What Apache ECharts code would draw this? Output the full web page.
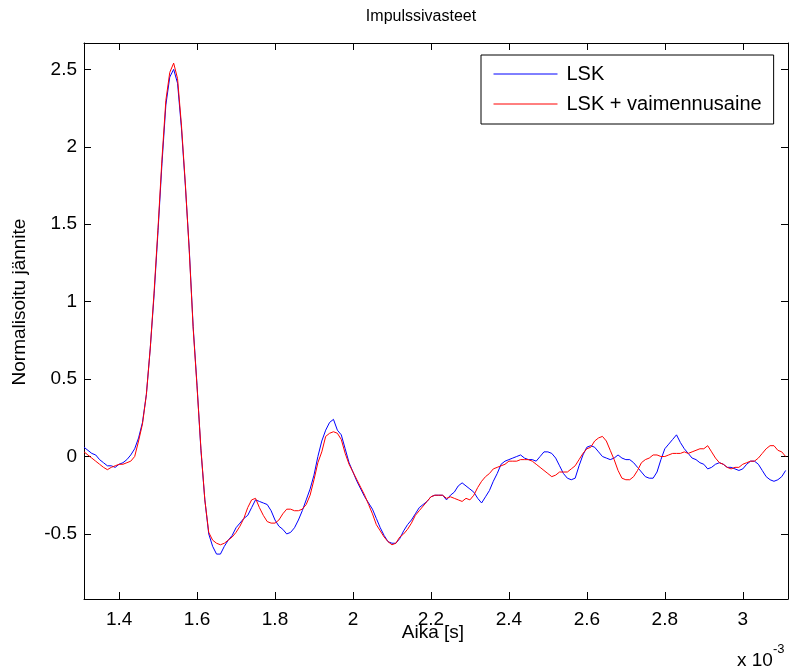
<!DOCTYPE html>
<html>
<head>
<meta charset="utf-8">
<script src="https://cdn.jsdelivr.net/npm/echarts@6/dist/echarts.min.js"></script>
<style>
  html, body { margin: 0; padding: 0; background: #fff; }
  #chart { width: 790px; height: 668px; }
</style>
</head>
<body>
<div id="chart"></div>
<script>
// aika (ms), näytteet 0.01 ms välein
var t0 = 1.31, dt = 0.01;

var lsk = [
  0.06, 0.04, 0.02, 0.01, -0.02, -0.04, -0.06, -0.06, -0.07, -0.05,
  -0.04, -0.02, 0.01, 0.05, 0.12, 0.22, 0.40, 0.70, 1.05, 1.46,
  1.89, 2.27, 2.45, 2.50, 2.41, 2.12, 1.75, 1.34, 0.84, 0.46,
  0.04, -0.28, -0.50, -0.58, -0.63, -0.63, -0.58, -0.54, -0.51, -0.46,
  -0.43, -0.40, -0.38, -0.33, -0.28, -0.29, -0.30, -0.31, -0.35, -0.41,
  -0.45, -0.47, -0.50, -0.49, -0.46, -0.41, -0.35, -0.28, -0.21, -0.12,
  0.00, 0.10, 0.17, 0.22, 0.24, 0.17, 0.14, 0.05, -0.04, -0.10,
  -0.16, -0.21, -0.26, -0.30, -0.34, -0.40, -0.46, -0.51, -0.55, -0.56,
  -0.56, -0.53, -0.48, -0.44, -0.41, -0.37, -0.33, -0.31, -0.29, -0.26,
  -0.25, -0.25, -0.25, -0.28, -0.25, -0.23, -0.19, -0.17, -0.19, -0.21,
  -0.23, -0.27, -0.30, -0.26, -0.22, -0.16, -0.11, -0.05, -0.03, -0.02,
  -0.01, 0.00, 0.01, -0.01, -0.02, -0.02, -0.03, 0.00, 0.03, 0.03,
  0.02, -0.01, -0.06, -0.11, -0.14, -0.15, -0.14, -0.06, 0.01, 0.06,
  0.07, 0.06, 0.03, 0.00, -0.01, -0.02, -0.01, 0.01, -0.01, -0.02,
  -0.02, -0.04, -0.07, -0.10, -0.13, -0.14, -0.14, -0.10, -0.02, 0.05,
  0.08, 0.11, 0.14, 0.09, 0.05, 0.02, -0.01, -0.02, -0.04, -0.05,
  -0.08, -0.07, -0.05, -0.04, -0.05, -0.07, -0.07, -0.08, -0.09, -0.08,
  -0.05, -0.03, -0.03, -0.05, -0.09, -0.13, -0.15, -0.16, -0.15, -0.13, -0.09
];

var lskVaim = [
  0.03, 0.01, -0.01, -0.03, -0.05, -0.07, -0.085, -0.07, -0.06, -0.05,
  -0.05, -0.04, -0.03, 0.00, 0.10, 0.21, 0.40, 0.70, 1.07, 1.48,
  1.92, 2.30, 2.48, 2.54, 2.44, 2.14, 1.76, 1.33, 0.83, 0.45,
  0.05, -0.28, -0.49, -0.54, -0.56, -0.57, -0.56, -0.54, -0.52, -0.49,
  -0.45, -0.40, -0.33, -0.28, -0.27, -0.33, -0.38, -0.42, -0.43, -0.43,
  -0.41, -0.37, -0.34, -0.34, -0.35, -0.35, -0.34, -0.31, -0.25, -0.15,
  -0.04, 0.03, 0.13, 0.15, 0.16, 0.15, 0.11, 0.02, -0.05, -0.10,
  -0.15, -0.20, -0.25, -0.31, -0.37, -0.44, -0.48, -0.52, -0.55, -0.57,
  -0.56, -0.52, -0.50, -0.47, -0.43, -0.38, -0.35, -0.32, -0.29, -0.26,
  -0.25, -0.25, -0.25, -0.27, -0.26, -0.27, -0.28, -0.29, -0.27, -0.28,
  -0.25, -0.20, -0.16, -0.13, -0.11, -0.08, -0.07, -0.06, -0.05, -0.03,
  -0.03, -0.03, -0.02, -0.02, -0.02, -0.03, -0.05, -0.07, -0.09, -0.11,
  -0.13, -0.12, -0.10, -0.10, -0.10, -0.08, -0.06, -0.02, 0.02, 0.05,
  0.06, 0.10, 0.12, 0.13, 0.10, 0.04, -0.02, -0.09, -0.14, -0.15,
  -0.15, -0.13, -0.09, -0.04, -0.02, -0.01, 0.01, 0.01, 0.00, 0.00,
  0.01, 0.02, 0.02, 0.02, 0.03, 0.02, 0.03, 0.04, 0.05, 0.05,
  0.07, 0.03, -0.01, -0.04, -0.05, -0.07, -0.08, -0.07, -0.07, -0.05,
  -0.04, -0.03, -0.03, -0.01, 0.02, 0.05, 0.07, 0.07, 0.04, 0.03, 0.00
];

var xMin = 1.31, xMax = 3.116;
var yMin = -0.92, yMax = 2.67;

function pairs(vals) {
  return vals.map(function (v, i) {
    return [+(t0 + i * dt).toFixed(3), v];
  });
}

var font = 'Arial, "Liberation Sans", Helvetica, sans-serif';

var myChart = echarts.init(document.getElementById('chart'));

var tickFmt = function (v) { return String(+v.toFixed(2)); };

var axisCommon = {
  type: 'value',
  scale: true,
  axisLine: { show: true, onZero: false, lineStyle: { color: '#000', width: 1 } },
  axisTick: { show: true, inside: true, length: 7, lineStyle: { color: '#000' } },
  splitLine: { show: false }
};

var option = {
  animation: false,
  backgroundColor: '#fff',
  grid: { left: 84, top: 43, width: 704, height: 556, containLabel: false },
  xAxis: [
    Object.assign({}, axisCommon, {
      position: 'bottom', min: xMin, max: xMax, splitNumber: 9,
      axisLabel: { show: true, color: '#000', fontFamily: font, fontSize: 19, margin: 11,
        showMinLabel: false, showMaxLabel: false, formatter: tickFmt }
    }),
    Object.assign({}, axisCommon, {
      position: 'top', min: xMin, max: xMax, splitNumber: 9,
      axisLabel: { show: false }
    })
  ],
  yAxis: [
    Object.assign({}, axisCommon, {
      position: 'left', min: yMin, max: yMax, splitNumber: 7,
      axisLabel: { show: true, color: '#000', fontFamily: font, fontSize: 19, margin: 7,
        showMinLabel: false, showMaxLabel: false, formatter: tickFmt }
    }),
    Object.assign({}, axisCommon, {
      position: 'right', min: yMin, max: yMax, splitNumber: 7,
      axisLabel: { show: false }
    })
  ],
  legend: {
    orient: 'vertical',
    left: 481, top: 55,
    padding: [9, 12, 10, 12],
    itemWidth: 64, itemHeight: 20, itemGap: 10,
    backgroundColor: '#fff',
    borderColor: '#000', borderWidth: 1, borderRadius: 0,
    itemStyle: { opacity: 0 },
    lineStyle: { width: 1 },
    textStyle: { color: '#000', fontFamily: font, fontSize: 20, padding: [0, 0, 0, 4] },
    data: ['LSK', 'LSK + vaimennusaine']
  },
  graphic: [
    { type: 'text', x: 421, y: 17,
      style: { text: 'Impulssivasteet', font: '16px ' + font, fill: '#000',
        align: 'center', verticalAlign: 'middle' } },
    { type: 'text', x: 20, y: 302, rotation: Math.PI / 2,
      style: { text: 'Normalisoitu jännite', font: '19px ' + font, fill: '#000',
        align: 'center', verticalAlign: 'middle' } },
    { type: 'text', x: 433, y: 633,
      style: { text: 'Aika [s]', font: '19px ' + font, fill: '#000',
        align: 'center', verticalAlign: 'middle' } },
    { type: 'text', x: 737, y: 643,
      style: { text: '{b|x 10}{s|-3}', fill: '#000',
        rich: {
          b: { fontFamily: font, fontSize: 19, padding: [8, 0, 0, 0] },
          s: { fontFamily: font, fontSize: 13, verticalAlign: 'top' }
        } } }
  ],
  series: [
    {
      name: 'LSK', type: 'line', xAxisIndex: 0, yAxisIndex: 0,
      showSymbol: false, symbol: 'none',
      lineStyle: { color: '#0000ff', width: 1 }, itemStyle: { color: '#0000ff' },
      data: pairs(lsk)
    },
    {
      name: 'LSK + vaimennusaine', type: 'line', xAxisIndex: 0, yAxisIndex: 0,
      showSymbol: false, symbol: 'none',
      lineStyle: { color: '#ff0000', width: 1 }, itemStyle: { color: '#ff0000' },
      data: pairs(lskVaim)
    }
  ]
};

option && myChart.setOption(option);
</script>
</body>
</html>
